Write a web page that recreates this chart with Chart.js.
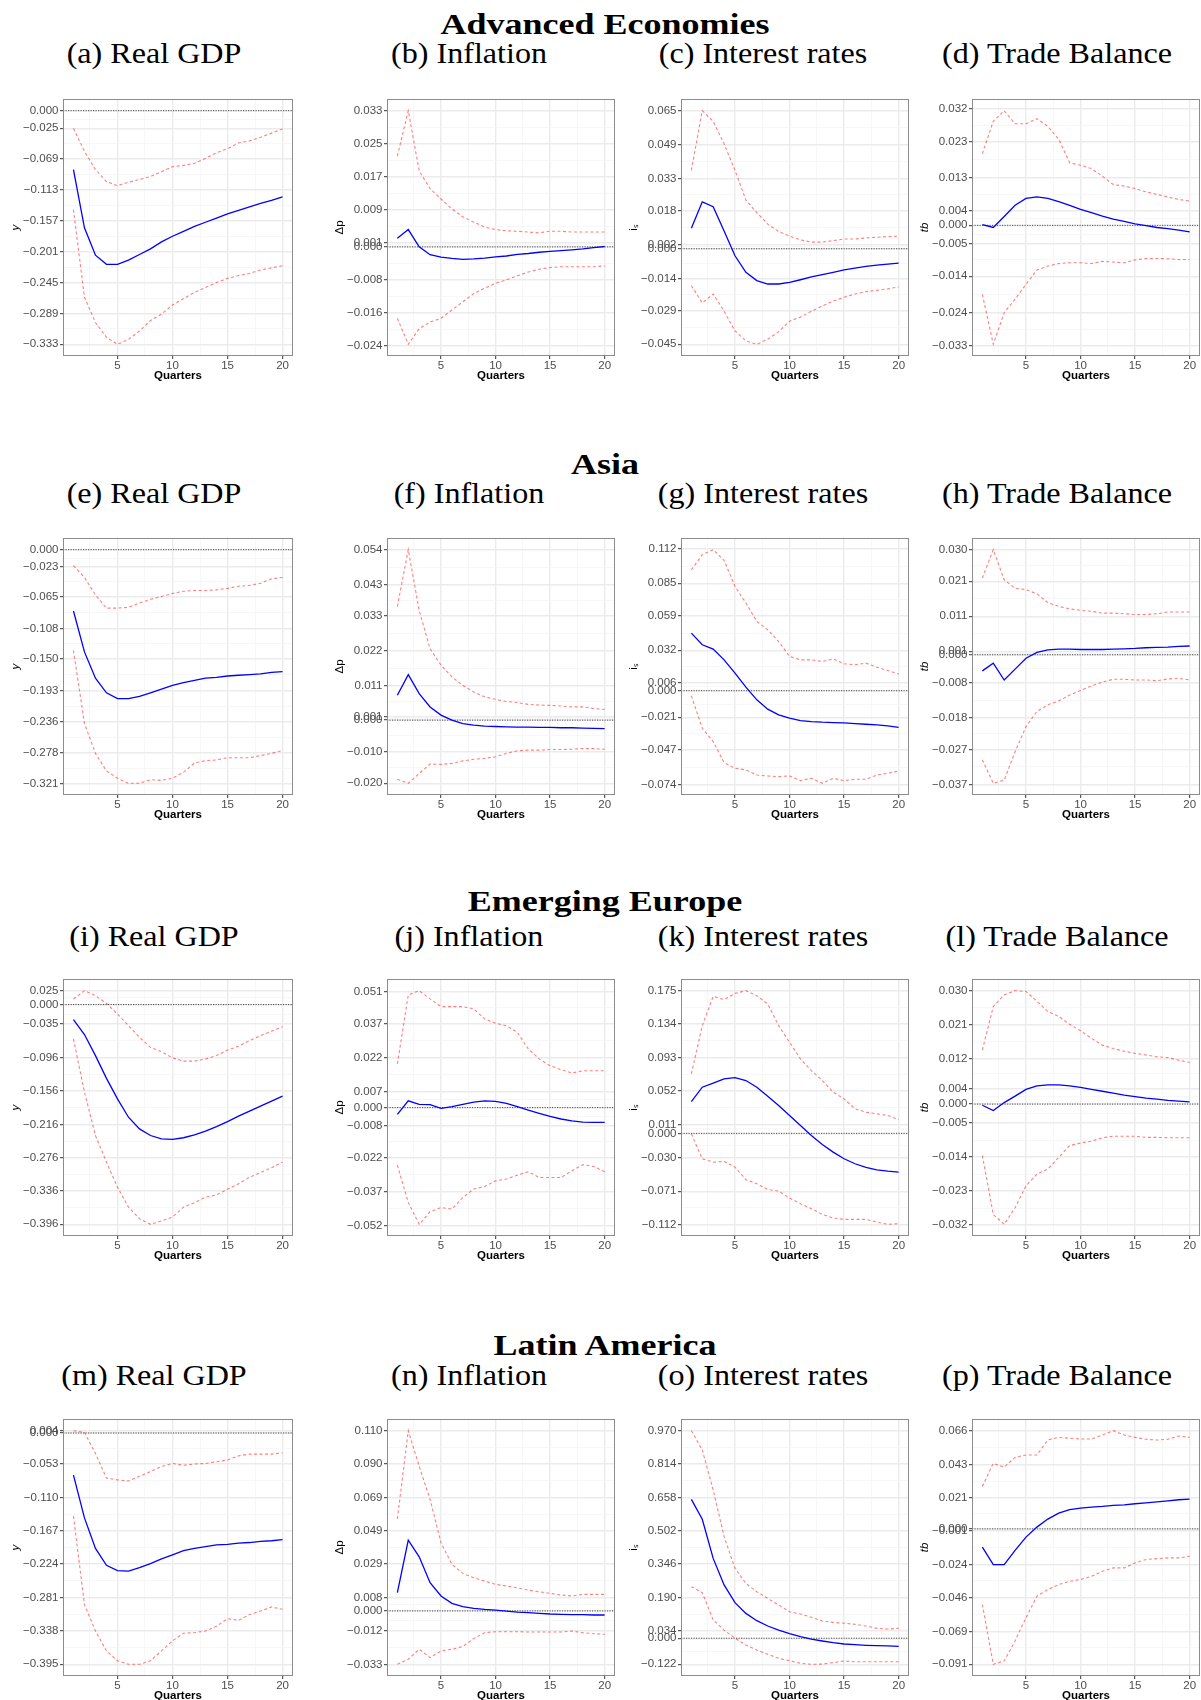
<!DOCTYPE html>
<html lang="en">
<head>
  <meta charset="UTF-8">
  <title>Impulse responses by region</title>
  <script src="https://cdn.jsdelivr.net/npm/chart.js"></script>
  <style>
    html, body { margin: 0; padding: 0; background: #fff; }
    #page { position: relative; width: 1201px; height: 1700px; overflow: hidden; background: #fff; }
    .region {
      position: absolute; white-space: nowrap; line-height: 1;
      font-family: "Liberation Serif", serif; font-weight: bold; font-size: 30px; color: #000;
      transform: translate(-50%, -50%) scaleX(1.2);
    }
    .sub {
      position: absolute; white-space: nowrap; line-height: 1;
      font-family: "Liberation Serif", serif; font-size: 30px; color: #000;
      transform: translate(-50%, -50%) scaleX(1.07);
    }
    canvas { position: absolute; }
  </style>
</head>
<body>
  <div id="page"></div>

  <script>
    // horizon (quarters) and x breaks
    const quarters = [1, 2, 3, 4, 5, 6, 7, 8, 9, 10, 11, 12, 13, 14, 15, 16, 17, 18, 19, 20];
    const xBreaks = [5, 10, 15, 20];
    const xMinor = [2.5, 7.5, 12.5, 17.5];

    // ---- Advanced Economies ----
    const a_lower = [-0.141, -0.266, -0.302, -0.323, -0.333, -0.326, -0.314, -0.299, -0.290, -0.277, -0.268, -0.259, -0.252, -0.245, -0.239, -0.235, -0.232, -0.227, -0.224, -0.221];
    const a_irf   = [-0.084, -0.167, -0.206, -0.219, -0.219, -0.213, -0.205, -0.197, -0.187, -0.179, -0.172, -0.165, -0.159, -0.153, -0.147, -0.142, -0.137, -0.132, -0.128, -0.123];
    const a_upper = [-0.025, -0.058, -0.084, -0.101, -0.107, -0.102, -0.098, -0.094, -0.087, -0.080, -0.078, -0.075, -0.068, -0.060, -0.054, -0.046, -0.043, -0.038, -0.032, -0.026];
    const a_ticks = [0.000, -0.025, -0.069, -0.113, -0.157, -0.201, -0.245, -0.289, -0.333];

    const b_lower = [-0.0173, -0.0236, -0.0198, -0.0182, -0.0173, -0.0153, -0.0133, -0.0113, -0.0100, -0.0088, -0.0080, -0.0070, -0.0061, -0.0054, -0.0050, -0.0048, -0.0048, -0.0048, -0.0048, -0.0046];
    const b_irf   = [0.0021, 0.0042, 0.0000, -0.0019, -0.0025, -0.0028, -0.0030, -0.0029, -0.0027, -0.0024, -0.0022, -0.0018, -0.0016, -0.0013, -0.0011, -0.0009, -0.0007, -0.0005, -0.0002, 0.0001];
    const b_upper = [0.0220, 0.0330, 0.0184, 0.0141, 0.0116, 0.0092, 0.0073, 0.0060, 0.0048, 0.0042, 0.0039, 0.0038, 0.0036, 0.0034, 0.0038, 0.0038, 0.0036, 0.0036, 0.0036, 0.0036];
    const b_ticks = [0.033, 0.025, 0.017, 0.009, 0.001, 0.000, -0.008, -0.016, -0.024];

    const c_lower = [-0.0174, -0.0255, -0.0213, -0.0294, -0.0387, -0.0434, -0.0450, -0.0426, -0.0391, -0.0341, -0.0322, -0.0294, -0.0270, -0.0247, -0.0228, -0.0213, -0.0202, -0.0196, -0.0189, -0.0180];
    const c_irf   = [0.0096, 0.0221, 0.0198, 0.0084, -0.0033, -0.0111, -0.0150, -0.0166, -0.0166, -0.0158, -0.0146, -0.0133, -0.0122, -0.0111, -0.0100, -0.0091, -0.0083, -0.0077, -0.0072, -0.0068];
    const c_upper = [0.0369, 0.0650, 0.0600, 0.0494, 0.0369, 0.0229, 0.0170, 0.0116, 0.0081, 0.0060, 0.0042, 0.0031, 0.0031, 0.0038, 0.0046, 0.0046, 0.0051, 0.0054, 0.0057, 0.0059];
    const c_ticks = [0.065, 0.049, 0.033, 0.018, 0.002, 0.000, -0.014, -0.029, -0.045];

    const d_lower = [-0.0190, -0.0327, -0.0240, -0.0203, -0.0162, -0.0123, -0.0112, -0.0105, -0.0103, -0.0103, -0.0105, -0.0099, -0.0101, -0.0103, -0.0095, -0.0091, -0.0091, -0.0092, -0.0094, -0.0094];
    const d_irf   = [0.0002, -0.0006, 0.0024, 0.0055, 0.0074, 0.0078, 0.0074, 0.0065, 0.0055, 0.0044, 0.0035, 0.0025, 0.0017, 0.0011, 0.0004, -0.0001, -0.0006, -0.0009, -0.0013, -0.0018];
    const d_upper = [0.0197, 0.0286, 0.0315, 0.0279, 0.0279, 0.0293, 0.0272, 0.0236, 0.0172, 0.0165, 0.0156, 0.0135, 0.0112, 0.0108, 0.0101, 0.0092, 0.0085, 0.0078, 0.0071, 0.0067];
    const d_ticks = [0.032, 0.023, 0.013, 0.004, 0.000, -0.005, -0.014, -0.024, -0.033];

    // ---- Asia ----
    const e_lower = [-0.138, -0.238, -0.279, -0.303, -0.313, -0.320, -0.320, -0.315, -0.316, -0.313, -0.305, -0.292, -0.289, -0.288, -0.285, -0.285, -0.285, -0.282, -0.279, -0.275];
    const e_irf   = [-0.084, -0.140, -0.176, -0.196, -0.204, -0.204, -0.201, -0.196, -0.191, -0.186, -0.182, -0.179, -0.176, -0.175, -0.173, -0.172, -0.171, -0.170, -0.168, -0.167];
    const e_upper = [-0.022, -0.038, -0.062, -0.080, -0.080, -0.079, -0.073, -0.068, -0.064, -0.060, -0.057, -0.056, -0.056, -0.055, -0.053, -0.050, -0.049, -0.046, -0.040, -0.038];
    const e_ticks = [0.000, -0.023, -0.065, -0.108, -0.150, -0.193, -0.236, -0.278, -0.321];

    const f_lower = [-0.0187, -0.0200, -0.0169, -0.0139, -0.0140, -0.0137, -0.0129, -0.0124, -0.0121, -0.0116, -0.0105, -0.0097, -0.0095, -0.0095, -0.0093, -0.0093, -0.0092, -0.0090, -0.0090, -0.0092];
    const f_irf   = [0.0079, 0.0144, 0.0084, 0.0042, 0.0016, 0.0000, -0.0011, -0.0016, -0.0019, -0.0020, -0.0021, -0.0022, -0.0022, -0.0023, -0.0023, -0.0024, -0.0024, -0.0025, -0.0026, -0.0027];
    const f_upper = [0.0360, 0.0540, 0.0347, 0.0226, 0.0174, 0.0137, 0.0110, 0.0089, 0.0074, 0.0066, 0.0059, 0.0056, 0.0050, 0.0048, 0.0047, 0.0045, 0.0042, 0.0042, 0.0037, 0.0034];
    const f_ticks = [0.054, 0.043, 0.033, 0.022, 0.011, 0.001, 0.000, -0.010, -0.020];

    const g_lower = [-0.0040, -0.0297, -0.0402, -0.0568, -0.0613, -0.0626, -0.0666, -0.0674, -0.0679, -0.0674, -0.0711, -0.0692, -0.0732, -0.0692, -0.0711, -0.0700, -0.0700, -0.0666, -0.0653, -0.0634];
    const g_irf   = [0.0455, 0.0363, 0.0329, 0.0244, 0.0139, 0.0028, -0.0072, -0.0146, -0.0191, -0.0217, -0.0236, -0.0244, -0.0249, -0.0252, -0.0254, -0.0260, -0.0265, -0.0270, -0.0278, -0.0289];
    const g_upper = [0.0956, 0.1075, 0.1115, 0.1030, 0.0825, 0.0693, 0.0548, 0.0482, 0.0389, 0.0271, 0.0244, 0.0244, 0.0231, 0.0252, 0.0213, 0.0205, 0.0218, 0.0186, 0.0160, 0.0133];
    const g_ticks = [0.112, 0.085, 0.059, 0.032, 0.006, 0.000, -0.021, -0.047, -0.074];

    const h_lower = [-0.0300, -0.0367, -0.0358, -0.0277, -0.0205, -0.0162, -0.0143, -0.0132, -0.0115, -0.0102, -0.0089, -0.0078, -0.0070, -0.0070, -0.0072, -0.0072, -0.0074, -0.0069, -0.0067, -0.0072];
    const h_irf   = [-0.0046, -0.0024, -0.0072, -0.0041, -0.0010, 0.0007, 0.0014, 0.0016, 0.0016, 0.0015, 0.0015, 0.0015, 0.0016, 0.0017, 0.0018, 0.0020, 0.0021, 0.0022, 0.0024, 0.0025];
    const h_upper = [0.0219, 0.0300, 0.0214, 0.0190, 0.0186, 0.0174, 0.0149, 0.0138, 0.0131, 0.0127, 0.0124, 0.0119, 0.0119, 0.0117, 0.0115, 0.0115, 0.0117, 0.0122, 0.0122, 0.0122];
    const h_ticks = [0.030, 0.021, 0.011, 0.001, 0.000, -0.008, -0.018, -0.027, -0.037];

    // ---- Emerging Europe ----
    const i_lower = [-0.062, -0.158, -0.236, -0.284, -0.329, -0.365, -0.386, -0.396, -0.390, -0.383, -0.365, -0.357, -0.347, -0.343, -0.333, -0.323, -0.311, -0.303, -0.294, -0.284];
    const i_irf   = [-0.027, -0.054, -0.092, -0.133, -0.170, -0.203, -0.224, -0.236, -0.242, -0.243, -0.240, -0.235, -0.228, -0.220, -0.211, -0.201, -0.192, -0.183, -0.174, -0.165];
    const i_upper = [0.010, 0.025, 0.016, 0.002, -0.017, -0.038, -0.059, -0.077, -0.085, -0.096, -0.102, -0.102, -0.098, -0.092, -0.082, -0.075, -0.065, -0.056, -0.048, -0.040];
    const i_ticks = [0.025, 0.000, -0.035, -0.096, -0.156, -0.216, -0.276, -0.336, -0.396];

    const j_lower = [-0.0253, -0.0417, -0.0513, -0.0458, -0.0439, -0.0446, -0.0395, -0.0358, -0.0347, -0.0322, -0.0314, -0.0297, -0.0282, -0.0307, -0.0307, -0.0307, -0.0278, -0.0251, -0.0259, -0.0282];
    const j_irf   = [-0.0030, 0.0030, 0.0014, 0.0013, -0.0003, 0.0004, 0.0014, 0.0024, 0.0030, 0.0027, 0.0019, 0.0004, -0.0011, -0.0025, -0.0039, -0.0050, -0.0058, -0.0064, -0.0065, -0.0065];
    const j_upper = [0.0192, 0.0495, 0.0514, 0.0478, 0.0444, 0.0444, 0.0444, 0.0434, 0.0390, 0.0371, 0.0360, 0.0331, 0.0258, 0.0214, 0.0184, 0.0167, 0.0152, 0.0162, 0.0162, 0.0162];
    const j_ticks = [0.051, 0.037, 0.022, 0.007, 0.000, -0.008, -0.022, -0.037, -0.052];

    const k_lower = [-0.0006, -0.0312, -0.0353, -0.0345, -0.0414, -0.0569, -0.0618, -0.0688, -0.0708, -0.0794, -0.0863, -0.0924, -0.0994, -0.1039, -0.1055, -0.1055, -0.1055, -0.1088, -0.1116, -0.1108];
    const k_irf   = [0.0390, 0.0566, 0.0615, 0.0668, 0.0684, 0.0648, 0.0566, 0.0456, 0.0341, 0.0219, 0.0096, -0.0026, -0.0136, -0.0230, -0.0312, -0.0373, -0.0418, -0.0447, -0.0463, -0.0475];
    const k_upper = [0.0729, 0.1321, 0.1680, 0.1640, 0.1717, 0.1750, 0.1689, 0.1587, 0.1321, 0.1117, 0.0913, 0.0770, 0.0648, 0.0505, 0.0423, 0.0301, 0.0260, 0.0239, 0.0219, 0.0170];
    const k_ticks = [0.175, 0.134, 0.093, 0.052, 0.011, 0.000, -0.030, -0.071, -0.112];

    const l_lower = [-0.0136, -0.0292, -0.0318, -0.0274, -0.0216, -0.0185, -0.0172, -0.0141, -0.0110, -0.0103, -0.0098, -0.0089, -0.0085, -0.0085, -0.0085, -0.0088, -0.0088, -0.0089, -0.0089, -0.0089];
    const l_irf   = [-0.0003, -0.0017, 0.0004, 0.0021, 0.0039, 0.0048, 0.0051, 0.0051, 0.0048, 0.0044, 0.0039, 0.0034, 0.0029, 0.0024, 0.0020, 0.0016, 0.0013, 0.0010, 0.0008, 0.0006];
    const l_upper = [0.0143, 0.0258, 0.0289, 0.0300, 0.0298, 0.0272, 0.0245, 0.0232, 0.0211, 0.0194, 0.0174, 0.0156, 0.0147, 0.0140, 0.0134, 0.0130, 0.0125, 0.0123, 0.0116, 0.0110];
    const l_ticks = [0.030, 0.021, 0.012, 0.004, 0.000, -0.005, -0.014, -0.023, -0.032];

    // ---- Latin America ----
    const m_lower = [-0.142, -0.293, -0.338, -0.372, -0.389, -0.395, -0.395, -0.389, -0.372, -0.355, -0.342, -0.341, -0.338, -0.330, -0.317, -0.320, -0.310, -0.304, -0.297, -0.301];
    const m_irf   = [-0.072, -0.145, -0.197, -0.226, -0.235, -0.236, -0.230, -0.223, -0.215, -0.208, -0.201, -0.197, -0.194, -0.191, -0.190, -0.188, -0.187, -0.185, -0.184, -0.182];
    const m_upper = [0.004, 0.001, -0.035, -0.077, -0.080, -0.082, -0.074, -0.066, -0.057, -0.052, -0.055, -0.053, -0.052, -0.049, -0.046, -0.039, -0.036, -0.036, -0.036, -0.034];
    const m_ticks = [0.004, 0.000, -0.053, -0.110, -0.167, -0.224, -0.281, -0.338, -0.395];

    const n_lower = [-0.0326, -0.0295, -0.0234, -0.0285, -0.0244, -0.0234, -0.0218, -0.0169, -0.0133, -0.0127, -0.0127, -0.0127, -0.0129, -0.0129, -0.0129, -0.0129, -0.0123, -0.0133, -0.0139, -0.0143];
    const n_irf   = [0.0111, 0.0432, 0.0330, 0.0172, 0.0091, 0.0046, 0.0026, 0.0015, 0.0009, 0.0005, -0.0001, -0.0007, -0.0011, -0.0015, -0.0019, -0.0021, -0.0023, -0.0023, -0.0025, -0.0025];
    const n_upper = [0.0562, 0.1100, 0.0883, 0.0680, 0.0416, 0.0284, 0.0229, 0.0202, 0.0182, 0.0162, 0.0152, 0.0141, 0.0127, 0.0117, 0.0107, 0.0097, 0.0091, 0.0101, 0.0101, 0.0101];
    const n_ticks = [0.110, 0.090, 0.069, 0.049, 0.029, 0.008, 0.000, -0.012, -0.033];

    const o_lower = [0.241, 0.213, 0.085, 0.038, 0.000, -0.032, -0.055, -0.075, -0.094, -0.105, -0.117, -0.122, -0.121, -0.114, -0.107, -0.110, -0.110, -0.110, -0.110, -0.110];
    const o_irf   = [0.649, 0.556, 0.373, 0.249, 0.166, 0.116, 0.082, 0.057, 0.038, 0.021, 0.007, -0.004, -0.013, -0.021, -0.027, -0.030, -0.033, -0.035, -0.036, -0.038];
    const o_upper = [0.970, 0.880, 0.693, 0.475, 0.327, 0.256, 0.217, 0.186, 0.155, 0.124, 0.113, 0.098, 0.080, 0.074, 0.070, 0.065, 0.057, 0.046, 0.043, 0.046];
    const o_ticks = [0.970, 0.814, 0.658, 0.502, 0.346, 0.190, 0.034, 0.000, -0.122];

    const p_lower = [-0.0508, -0.0910, -0.0887, -0.0753, -0.0597, -0.0452, -0.0407, -0.0374, -0.0352, -0.0340, -0.0318, -0.0285, -0.0262, -0.0262, -0.0229, -0.0206, -0.0200, -0.0195, -0.0195, -0.0184];
    const p_irf   = [-0.0122, -0.0240, -0.0240, -0.0144, -0.0055, 0.0012, 0.0066, 0.0106, 0.0129, 0.0140, 0.0146, 0.0151, 0.0158, 0.0162, 0.0169, 0.0175, 0.0182, 0.0189, 0.0196, 0.0200];
    const p_upper = [0.0285, 0.0441, 0.0414, 0.0481, 0.0497, 0.0497, 0.0597, 0.0615, 0.0609, 0.0604, 0.0604, 0.0631, 0.0660, 0.0631, 0.0615, 0.0602, 0.0597, 0.0602, 0.0624, 0.0615];
    const p_ticks = [0.066, 0.043, 0.021, 0.000, -0.001, -0.024, -0.046, -0.069, -0.091];

    // titles
    const regions = ['Advanced Economies', 'Asia', 'Emerging Europe', 'Latin America'];
    const subTitles = [
      ['(a) Real GDP', '(b) Inflation', '(c) Interest rates', '(d) Trade Balance'],
      ['(e) Real GDP', '(f) Inflation', '(g) Interest rates', '(h) Trade Balance'],
      ['(i) Real GDP', '(j) Inflation', '(k) Interest rates', '(l) Trade Balance'],
      ['(m) Real GDP', '(n) Inflation', '(o) Interest rates', '(p) Trade Balance']
    ];
    const yTitles = ['y', 'Δp', 'iₛ', 'tb'];

    const panels = [
      [a_lower, a_irf, a_upper, a_ticks], [b_lower, b_irf, b_upper, b_ticks], [c_lower, c_irf, c_upper, c_ticks], [d_lower, d_irf, d_upper, d_ticks],
      [e_lower, e_irf, e_upper, e_ticks], [f_lower, f_irf, f_upper, f_ticks], [g_lower, g_irf, g_upper, g_ticks], [h_lower, h_irf, h_upper, h_ticks],
      [i_lower, i_irf, i_upper, i_ticks], [j_lower, j_irf, j_upper, j_ticks], [k_lower, k_irf, k_upper, k_ticks], [l_lower, l_irf, l_upper, l_ticks],
      [m_lower, m_irf, m_upper, m_ticks], [n_lower, n_irf, n_upper, n_ticks], [o_lower, o_irf, o_upper, o_ticks], [p_lower, p_irf, p_upper, p_ticks]
    ];

    // page layout (px)
    const boxLeft = [63, 387, 681, 972];
    const boxWidth = [230, 228, 228, 228];
    const rowTop = [99, 538, 979, 1419];
    const boxH = 257;
    const regionY = [24, 464, 901, 1345];
    const subX = [154, 469, 763, 1057];
    const subY = [53, 493, 936, 1375];

    const page = document.getElementById('page');
    const SANS = '"Liberation Sans", Arial, sans-serif';

    // dotted zero line + panel frame
    const framePlugin = {
      id: 'frame',
      beforeDatasetsDraw(chart) {
        const { ctx, chartArea: a, scales } = chart;
        const y0 = scales.y.getPixelForValue(0);
        ctx.save();
        ctx.strokeStyle = '#3a3a3a';
        ctx.lineWidth = 0.9;
        ctx.setLineDash([1.2, 1.3]);
        ctx.beginPath();
        ctx.moveTo(a.left, y0);
        ctx.lineTo(a.right, y0);
        ctx.stroke();
        ctx.restore();
      },
      afterDraw(chart) {
        const { ctx, chartArea: a } = chart;
        ctx.save();
        ctx.strokeStyle = '#8c8c8c';
        ctx.lineWidth = 1;
        ctx.strokeRect(a.left + 0.5, a.top + 0.5, a.width - 1, a.height - 1);
        ctx.restore();
      }
    };

    const fmt = v => v.toFixed(3).replace('-', '\u2212');
    const gridOpts = {
      color: c => (c.tick && c.tick.major) ? '#EBEBEB' : '#F4F4F4',
      lineWidth: c => (c.tick && c.tick.major) ? 1.4 : 0.7,
      tickColor: c => (c.tick && c.tick.major) ? '#333333' : 'rgba(0,0,0,0)',
      tickLength: 3,
      tickWidth: 1,
      drawTicks: true
    };

    function addText(cls, text, x, y) {
      const d = document.createElement('div');
      d.className = cls;
      d.textContent = text;
      d.style.left = x + 'px';
      d.style.top = y + 'px';
      page.appendChild(d);
    }

    function makePanel(row, col) {
      const [lower, irf, upper, ticks] = panels[row * 4 + col];
      const L = boxLeft[col], T = rowTop[row], W = boxWidth[col];

      const cv = document.createElement('canvas');
      cv.width = 60 + W + 4;
      cv.height = 10 + boxH + 32;
      cv.style.left = (L - 60) + 'px';
      cv.style.top = (T - 10) + 'px';
      cv.style.width = cv.width + 'px';
      cv.style.height = cv.height + 'px';
      page.appendChild(cv);

      // ggplot-style limits: data plus the zero line, expanded 5%
      const all = lower.concat(irf, upper, [0]);
      const lo = Math.min(...all), hi = Math.max(...all), pad = (hi - lo) * 0.05;

      const sorted = ticks.slice().sort((p, q) => p - q);
      const minors = sorted.slice(1).map((v, k) => (v + sorted[k]) / 2);
      const yTicks = sorted.map(v => ({ value: v, major: true }))
        .concat(minors.map(v => ({ value: v, major: false })));
      const xTicks = xBreaks.map(v => ({ value: v, major: true }))
        .concat(xMinor.map(v => ({ value: v, major: false })));

      const pts = arr => quarters.map((q, k) => ({ x: q, y: arr[k] }));
      const band = {
        borderColor: 'rgba(255,0,0,0.5)', borderWidth: 1.1, borderDash: [3, 2.5],
        pointRadius: 0, tension: 0, fill: false
      };

      new Chart(cv.getContext('2d'), {
        type: 'line',
        data: {
          datasets: [
            Object.assign({ data: pts(lower) }, band),
            Object.assign({ data: pts(upper) }, band),
            { data: pts(irf), borderColor: '#0000FF', borderWidth: 1.3, pointRadius: 0, tension: 0, fill: false }
          ]
        },
        options: {
          responsive: false,
          animation: false,
          devicePixelRatio: 1,
          events: [],
          layout: { padding: { top: 10, right: 4, left: 0, bottom: 0 } },
          plugins: { legend: { display: false }, tooltip: { enabled: false } },
          scales: {
            x: {
              type: 'linear', min: 0.05, max: 20.95, bounds: 'data',
              afterBuildTicks: s => { s.ticks = xTicks.map(t => Object.assign({}, t)); },
              afterFit: s => { s.height = 32; },
              border: { display: false },
              grid: gridOpts,
              ticks: {
                autoSkip: false, maxRotation: 0, padding: 0, color: '#4d4d4d',
                font: { family: SANS, size: 11.5 },
                callback: (v, k, arr) => arr[k].major ? String(v) : ''
              },
              title: {
                display: true, text: 'Quarters', color: '#000',
                font: { family: SANS, size: 11.5, weight: 'bold' },
                padding: { top: 0, bottom: 5 }
              }
            },
            y: {
              type: 'linear', min: lo - pad, max: hi + pad, bounds: 'data',
              afterBuildTicks: s => { s.ticks = yTicks.map(t => Object.assign({}, t)); },
              afterFit: s => { s.width = 60; },
              border: { display: false },
              grid: gridOpts,
              ticks: {
                autoSkip: false, padding: 1.5, color: '#4d4d4d',
                font: { family: SANS, size: 11.5 },
                callback: (v, k, arr) => arr[k].major ? fmt(v) : ''
              },
              title: {
                display: true, text: yTitles[col], color: '#000',
                font: { family: SANS, size: 11.5, style: (col === 0 || col === 3) ? 'italic' : 'normal' },
                padding: { top: 6, bottom: 0 }
              }
            }
          }
        },
        plugins: [framePlugin]
      });
    }

    for (let r = 0; r < 4; r++) {
      addText('region', regions[r], 605, regionY[r]);
      for (let c = 0; c < 4; c++) {
        addText('sub', subTitles[r][c], subX[c], subY[r]);
        makePanel(r, c);
      }
    }
  </script>
</body>
</html>
